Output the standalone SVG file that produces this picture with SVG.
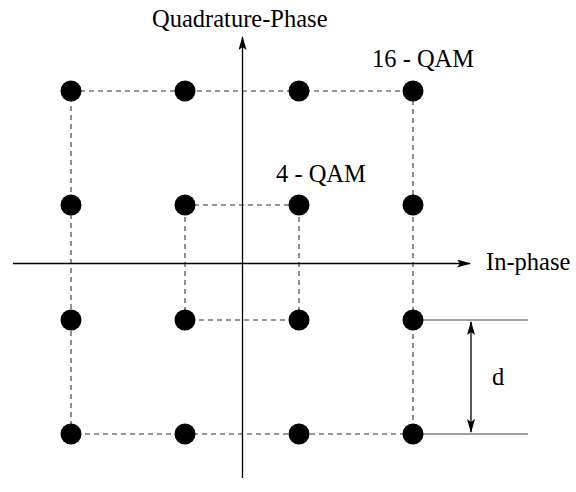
<svg xmlns="http://www.w3.org/2000/svg" width="576" height="492" viewBox="0 0 576 492">
<style>
text{font-family:"Liberation Serif","Times New Roman",serif;font-size:24.5px;fill:#000}
.dash{fill:none;stroke:#333;stroke-width:1.1;stroke-dasharray:5,4}
.dot{fill:#000}
.ax{stroke:#000;stroke-width:1.3;fill:none}
.ref{stroke:#444;stroke-width:1.2;fill:none}
</style>
<defs>
<marker id="ah" markerWidth="14" markerHeight="8" refX="13" refY="4" orient="auto-start-reverse" markerUnits="userSpaceOnUse">
<path d="M0,0 L14,4 L0,8 L3,4 Z" fill="#000"/>
</marker>
</defs>
<g id="connectors">
<rect class="dash" x="71" y="91" width="342" height="343"/>
<rect class="dash" x="185" y="205" width="114" height="115"/>
<line class="ax" x1="242.5" y1="478" x2="242.5" y2="37" marker-end="url(#ah)"/>
<line class="ax" x1="13" y1="263.5" x2="470" y2="263.5" stroke="#555" marker-end="url(#ah)"/>
<line class="ref" x1="413" y1="320" x2="528" y2="320"/>
<line class="ref" x1="413" y1="434" x2="528" y2="434"/>
<line class="ax" x1="471" y1="322" x2="471" y2="432" marker-start="url(#ah)" marker-end="url(#ah)"/>
</g>
<g id="points">
<circle class="dot" cx="71" cy="91" r="10.5"/>
<circle class="dot" cx="185" cy="91" r="10.5"/>
<circle class="dot" cx="299" cy="91" r="10.5"/>
<circle class="dot" cx="413" cy="91" r="10.5"/>
<circle class="dot" cx="71" cy="205" r="10.5"/>
<circle class="dot" cx="185" cy="205" r="10.5"/>
<circle class="dot" cx="299" cy="205" r="10.5"/>
<circle class="dot" cx="413" cy="205" r="10.5"/>
<circle class="dot" cx="71" cy="320" r="10.5"/>
<circle class="dot" cx="185" cy="320" r="10.5"/>
<circle class="dot" cx="299" cy="320" r="10.5"/>
<circle class="dot" cx="413" cy="320" r="10.5"/>
<circle class="dot" cx="71" cy="434" r="10.5"/>
<circle class="dot" cx="185" cy="434" r="10.5"/>
<circle class="dot" cx="299" cy="434" r="10.5"/>
<circle class="dot" cx="413" cy="434" r="10.5"/>
</g>
<g id="labels">
<text x="152" y="27">Quadrature-Phase</text>
<text x="372" y="67">16 - QAM</text>
<text x="276" y="182">4 - QAM</text>
<text x="486" y="270">In-phase</text>
<text x="492" y="385">d</text>
</g>
</svg>
